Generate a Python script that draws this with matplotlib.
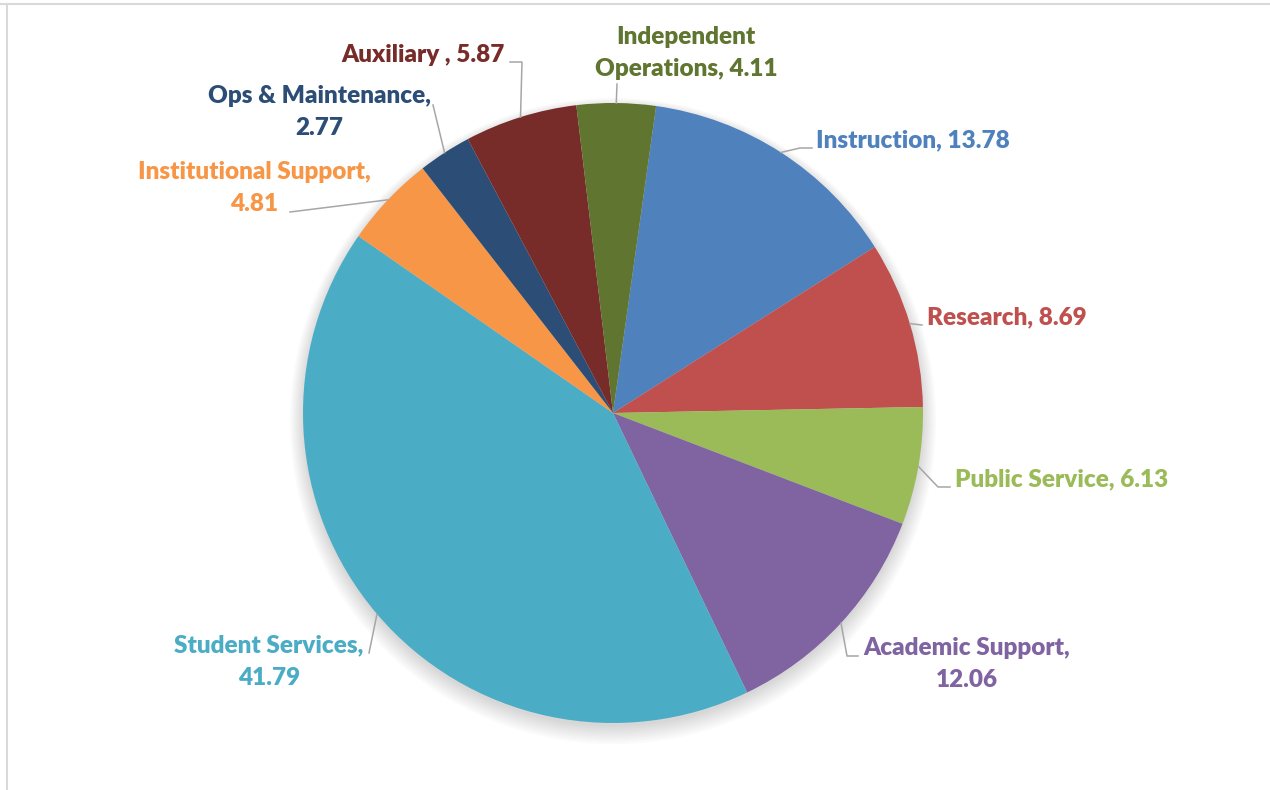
import numpy as np
import matplotlib.pyplot as plt
from matplotlib.patches import Circle

categories = ['Instruction', 'Research', 'Public Service', 'Academic Support',
              'Student Services', 'Institutional Support', 'Ops & Maintenance',
              'Auxiliary ', 'Independent Operations']
values = [13.78, 8.69, 6.13, 12.06, 41.79, 4.81, 2.77, 5.87, 4.11]
colors = ['#4F81BD', '#C0504D', '#9BBB59', '#8064A2', '#4BACC6',
          '#F79646', '#2C4D75', '#772C2A', '#5F7530']
label_texts = ['Instruction, 13.78', 'Research, 8.69', 'Public Service, 6.13',
               'Academic Support,\n12.06', 'Student Services,\n41.79',
               'Institutional Support,\n4.81', 'Ops & Maintenance,\n2.77',
               'Auxiliary , 5.87', 'Independent\nOperations, 4.11']

# label layout in pixels: text anchor, alignment, leader bend points
label_layout = [
    ((816, 140), 'left', [(800, 148), (812, 148)]),
    ((927, 317), 'left', [(922, 325)]),
    ((955, 479), 'left', [(938, 487), (950, 487)]),
    ((967, 664), 'center', [(847, 656), (858, 656)]),
    ((269, 662), 'center', [(369, 653)]),
    ((254, 188), 'center', [(290, 212)]),
    ((319, 112), 'center', [(433, 105)]),
    ((505, 55), 'right', [(522, 62), (510, 62)]),
    ((686, 53), 'center', [(617, 84)]),
]

W, H = 1270, 790
CX, CY, R = 613, 413, 310


def px(x, y):
    return (x - CX) / R, (CY - y) / R


plt.rcParams['font.family'] = ['Lato', 'DejaVu Sans']
fig = plt.figure(figsize=(W / 100, H / 100), dpi=100)
ax = fig.add_axes([0, 0, 1, 1])

# soft shadow
for k in range(8):
    ax.add_patch(Circle((0, -0.012 - k * 0.002), 1.0 + k * 0.006,
                        color='black', alpha=0.018, lw=0, zorder=0))

wedges, _ = ax.pie(values, colors=colors, startangle=82, counterclock=False,
                   radius=1.0, center=(0, 0), frame=True,
                   wedgeprops=dict(linewidth=0))
ax.set_xlim(px(0, 0)[0], px(W, 0)[0])
ax.set_ylim(px(0, H)[1], px(0, 0)[1])
ax.set_aspect('auto')
ax.axis('off')

for w, txt, col, (anchor, ha, bends) in zip(wedges, label_texts, colors, label_layout):
    mid = np.deg2rad((w.theta1 + w.theta2) / 2)
    pts = [(np.cos(mid), np.sin(mid))] + [px(*b) for b in bends]
    xs, ys = zip(*pts)
    ax.plot(xs, ys, color='#A6A6A6', lw=1.1, zorder=3)
    tx, ty = px(*anchor)
    ax.text(tx, ty, txt, color=col, fontsize=17.5, fontweight='heavy',
            ha=ha, va='center', multialignment='center', linespacing=1.6)

# chart area border (top and left edges visible)
fig.add_artist(plt.Line2D([0, 1], [1 - 4 / H, 1 - 4 / H], transform=fig.transFigure,
                          color='#D9D9D9', lw=1.5))
fig.add_artist(plt.Line2D([7 / W, 7 / W], [0, 1 - 4 / H], transform=fig.transFigure,
                          color='#D9D9D9', lw=1.5))

plt.savefig('out.png', dpi=100)
